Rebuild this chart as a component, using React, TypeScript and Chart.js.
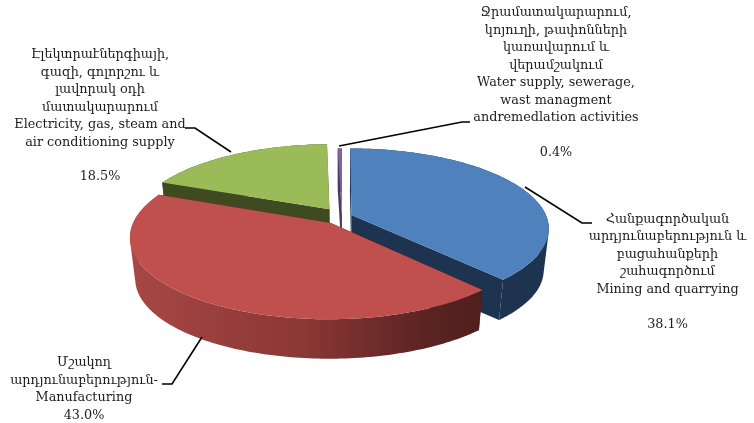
import React, { useEffect, useRef } from "react";
import { Chart, registerables } from "chart.js";

Chart.register(...registerables);

const categories = [
  "Mining and quarrying",
  "Manufacturing",
  "Electricity, gas, steam and air conditioning supply",
  "Water supply, sewerage, wast managment and remediation activities",
];
const shares = [38.1, 43.0, 18.5, 0.4];
const sliceColors = ["#4f81bd", "#c0504d", "#9bbb59", "#8064a2"];
const wallColors = ["#1d3350", "#4f1f1d", "#3e4a20", "#4a3a60"];
const explode = [10.5, 20, 23, 4];
const paintOrder = [3, 2, 0, 1];

const miningText = ["Հանքագործական", "արդյունաբերություն և", "բացահանքերի", "շահագործում", "Mining and quarrying", ""];
const manufacturingText = ["Մշակող", "արդյունաբերություն-", "Manufacturing"];
const electricityText = ["Էլեկտրաէներգիայի,", "գազի, գոլորշու և", "լավորակ օդի", "մատակարարում", "Electricity, gas, steam and", "air conditioning supply", ""];
const waterText = ["Ջրամատակարարում,", "կոյուղի, թափոնների", "կառավարում և", "վերամշակում", "Water supply, sewerage,", "wast managment", "andremedlation activities", ""];

const labelTexts = [miningText, manufacturingText, electricityText, waterText];
const labelAnchors = [
  [667.5, 219.5],
  [84, 363],
  [100, 55],
  [556, 13],
];
const leaders = [
  [[525, 187], [582, 223], [592, 223]],
  [[202, 337], [172, 384], [162, 384]],
  [[231, 152], [195, 128], [185, 128]],
  [[339, 146], [462, 122], [470, 122]],
];

const CX = 342;
const CY = 216.5;
const RX = 195;
const RY = 78;
const PERSP = 0.165;
const DEPTH = 42;
const SHRINK = 0.975;
const LINE = 17.45;
const FONT = '12.8px "DejaVu Serif"';

function project(u: number, v: number, low: boolean) {
  const s = 1 / (1 - PERSP * v);
  const k = low ? SHRINK : 1;
  return [CX + RX * u * s * k, CY + RY * v * s * k + (low ? DEPTH : 0)];
}

function fillPath(ctx: any, pts: number[][]) {
  ctx.beginPath();
  pts.forEach((c, j) => (j ? ctx.lineTo(c[0], c[1]) : ctx.moveTo(c[0], c[1])));
  ctx.closePath();
  ctx.fill();
}

function signedArea(q: number[][]) {
  let a = 0;
  q.forEach((c, j) => {
    const d = q[(j + 1) % q.length];
    a += c[0] * d[1] - d[0] * c[1];
  });
  return a;
}

const pie3d = {
  id: "pie3d",
  beforeDatasetDraw(chart: any) {
    const ctx = chart.ctx;
    const arcs = chart.getDatasetMeta(0).data;
    const redWall = ctx.createLinearGradient(130, 0, 480, 0);
    redWall.addColorStop(0, "#a84745");
    redWall.addColorStop(0.5, "#8a3735");
    redWall.addColorStop(0.85, "#5a2422");
    redWall.addColorStop(1, "#4f1f1d");
    for (const i of paintOrder) {
      const el = arcs[i];
      const p = el.getProps(["startAngle", "endAngle", "outerRadius"], true);
      const R = p.outerRadius;
      const mid = (p.startAngle + p.endAngle) / 2;
      const eu = (Math.cos(mid) * el.options.offset) / R;
      const ev = (Math.sin(mid) * el.options.offset) / R;
      const rim: number[][] = [];
      const steps = Math.max(4, Math.ceil((p.endAngle - p.startAngle) / 0.02));
      for (let n = 0; n <= steps; n++) {
        const t = p.startAngle + ((p.endAngle - p.startAngle) * n) / steps;
        rim.push([eu + Math.cos(t), ev + Math.sin(t)]);
      }
      const apexTop = project(eu, ev, false);
      const apexLow = project(eu, ev, true);
      const first = rim[0];
      const last = rim[rim.length - 1];
      ctx.fillStyle = wallColors[i];
      fillPath(ctx, [apexTop, project(first[0], first[1], false), project(first[0], first[1], true), apexLow]);
      fillPath(ctx, [apexTop, project(last[0], last[1], false), project(last[0], last[1], true), apexLow]);
      // Rim wall: one path made of consistently wound quads, so that the union has no seams or gaps.
      ctx.fillStyle = i === 1 ? redWall : wallColors[i];
      ctx.beginPath();
      for (let n = 0; n < rim.length - 1; n++) {
        const a = rim[n];
        const b = rim[n + 1];
        let q = [project(a[0], a[1], false), project(b[0], b[1], false), project(b[0], b[1], true), project(a[0], a[1], true)];
        if (signedArea(q) < 0) q = q.reverse();
        q.forEach((c, j) => (j ? ctx.lineTo(c[0], c[1]) : ctx.moveTo(c[0], c[1])));
        ctx.closePath();
      }
      ctx.fill();
      ctx.fillStyle = el.options.backgroundColor;
      fillPath(ctx, [apexTop, ...rim.map((o) => project(o[0], o[1], false))]);
    }
    return false;
  },
  afterDraw(chart: any) {
    const ctx = chart.ctx;
    ctx.save();
    ctx.strokeStyle = "#000000";
    ctx.lineWidth = 1.6;
    for (const line of leaders) {
      ctx.beginPath();
      line.forEach((c, j) => (j ? ctx.lineTo(c[0], c[1]) : ctx.moveTo(c[0], c[1])));
      ctx.stroke();
    }
    ctx.fillStyle = "#1c1c1c";
    ctx.font = FONT;
    ctx.textAlign = "center";
    ctx.textBaseline = "middle";
    labelTexts.forEach((lines, i) => {
      const all = [...lines, shares[i].toFixed(1) + "%"];
      all.forEach((t, j) => {
        if (t) ctx.fillText(t, labelAnchors[i][0], labelAnchors[i][1] + j * LINE);
      });
    });
    ctx.restore();
  },
};

export default function App() {
  const ref = useRef<HTMLCanvasElement>(null);
  useEffect(() => {
    const chart = new Chart(ref.current as HTMLCanvasElement, {
      type: "pie",
      data: {
        labels: categories,
        datasets: [{ data: shares, backgroundColor: sliceColors, offset: explode, borderWidth: 0 }],
      },
      options: {
        responsive: false,
        animation: false,
        rotation: 0,
        plugins: { legend: { display: false }, tooltip: { enabled: false } },
      },
      plugins: [pie3d],
    } as any);
    return () => chart.destroy();
  }, []);
  return (
    <div style={{ position: "absolute", left: 0, top: 0, width: 754, height: 423, background: "#fff" }}>
      <canvas ref={ref} width={754} height={423} style={{ display: "block" }} />
    </div>
  );
}
